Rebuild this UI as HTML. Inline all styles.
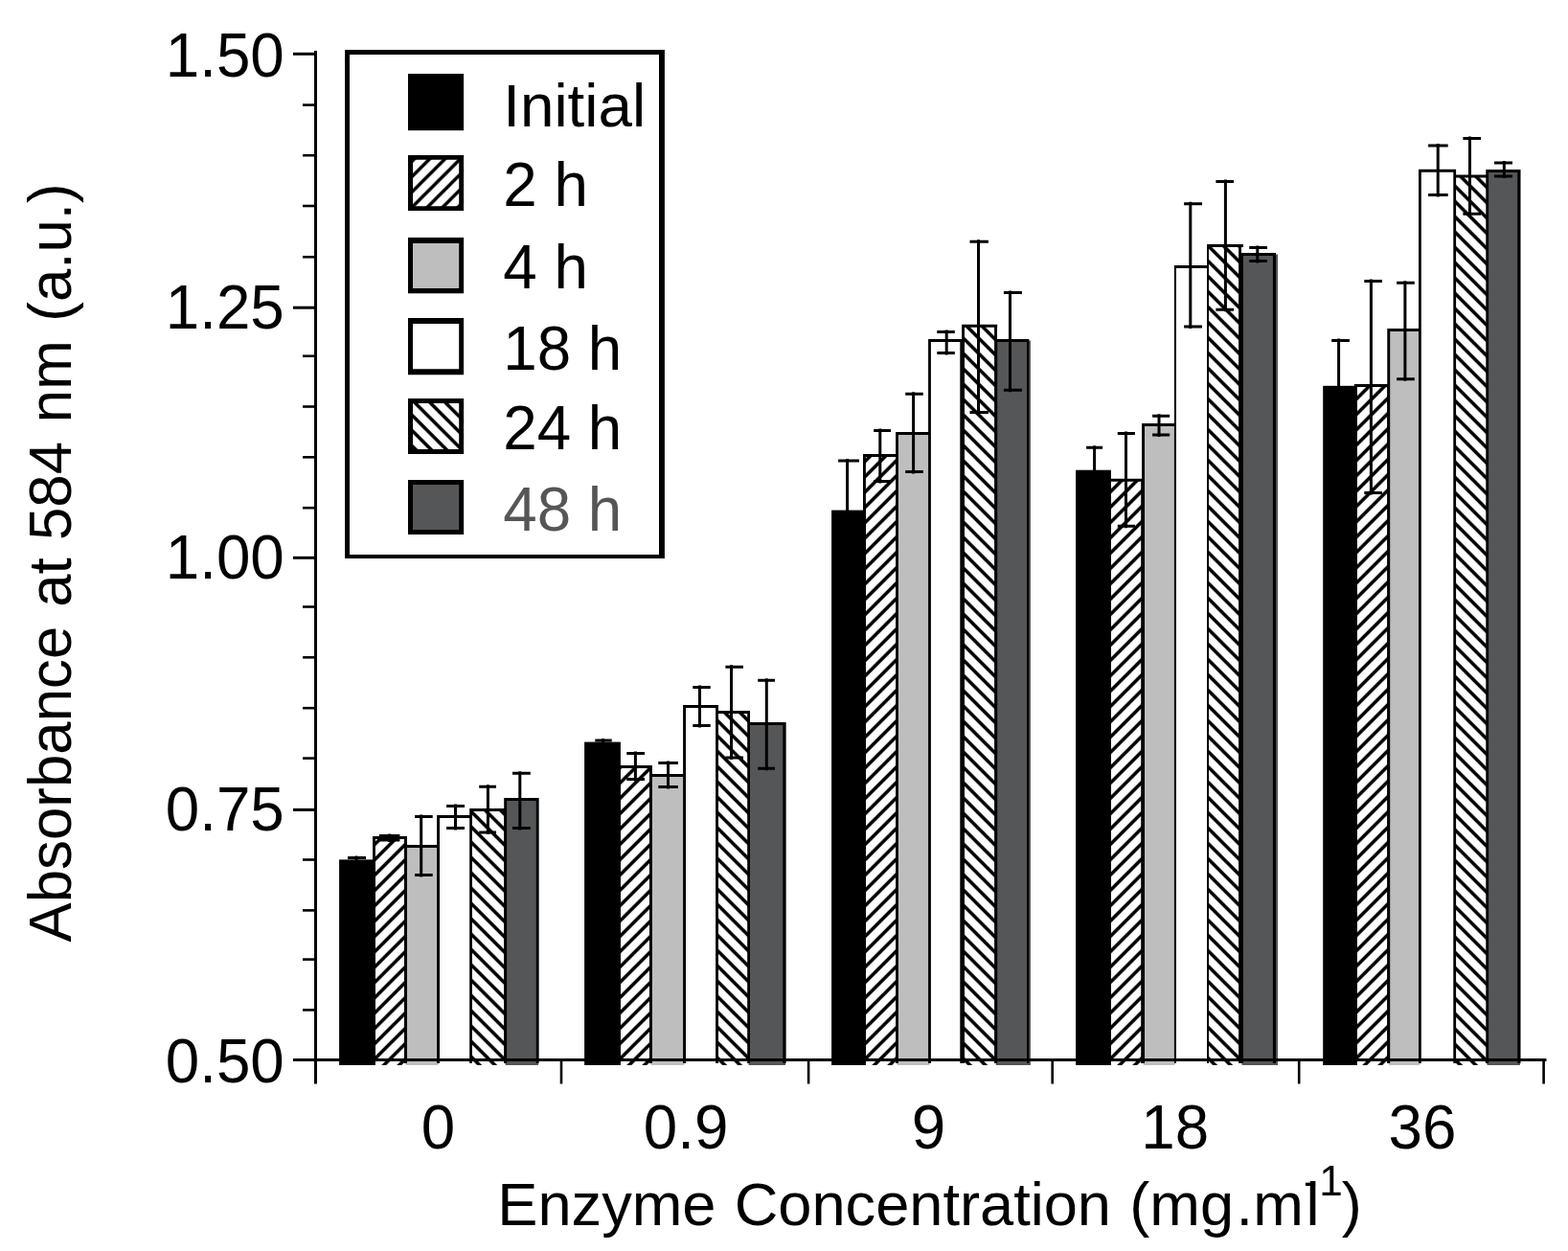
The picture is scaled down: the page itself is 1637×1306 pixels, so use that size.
<!DOCTYPE html>
<html lang="en"><head><meta charset="utf-8"><title>Absorbance at 584 nm vs Enzyme Concentration</title>
<style>
html,body{margin:0;padding:0;background:#fff;}
body{width:1637px;height:1306px;overflow:hidden;}
svg{display:block;}
text{font-family:'Liberation Sans', sans-serif;fill:#000;}
</style></head><body>
<svg width="1637" height="1306" viewBox="0 0 1637 1306">
<defs>
<pattern id="h1" patternUnits="userSpaceOnUse" width="16" height="16" patternTransform="translate(8.7,0)">
<rect width="16" height="16" fill="#fff"/>
<path d="M-4,4 L4,-4 M-4,20 L20,-4 M12,20 L20,12" stroke="#000" stroke-width="3.6" fill="none"/>
</pattern>
<pattern id="h2" patternUnits="userSpaceOnUse" width="16" height="16" patternTransform="translate(0,3.3)">
<rect width="16" height="16" fill="#fff"/>
<path d="M-4,12 L4,20 M-4,-4 L20,20 M12,-4 L20,4" stroke="#000" stroke-width="3.6" fill="none"/>
</pattern>
<pattern id="h1L" patternUnits="userSpaceOnUse" width="16" height="16" patternTransform="translate(6.5,0)">
<rect width="16" height="16" fill="#fff"/>
<path d="M-4,4 L4,-4 M-4,20 L20,-4 M12,20 L20,12" stroke="#000" stroke-width="3.4" fill="none"/>
</pattern>
</defs>
<rect width="1637" height="1306" fill="#fff"/>
<g id="bars">
<rect x="390.4" y="874.5" width="34.0" height="237.5" fill="url(#h1)"/>
<rect x="423.5" y="883.5" width="35.0" height="228.5" fill="#bebebe"/>
<rect x="457.5" y="852.5" width="34.9" height="259.5" fill="#ffffff"/>
<rect x="491.4" y="845.5" width="37.1" height="266.5" fill="url(#h2)"/>
<rect x="527.6" y="834.5" width="34.5" height="277.5" fill="#555658"/>
<rect x="354.1" y="897.4" width="37.8" height="214.6" fill="#000"/>
<path d="M389.0,873.0H425.0V876.0H389.0ZM389.0,873.0H391.9V1110.0H389.0ZM422.0,873.0H424.9V1110.0H422.0ZM422.1,882.0H459.0V885.0H422.1ZM422.1,882.0H425.0V1110.0H422.1ZM456.1,882.0H459.0V1110.0H456.1ZM456.1,851.0H492.9V854.0H456.1ZM456.1,851.0H459.0V1110.0H456.1ZM490.2,851.0H492.9V1110.0H490.2ZM490.2,844.0H529.1V847.0H490.2ZM490.2,844.0H492.9V1110.0H490.2ZM526.1,844.0H529.0V1110.0H526.1ZM526.2,833.0H562.6V836.0H526.2ZM526.2,833.0H529.1V1110.0H526.2ZM559.8,833.0H562.6V1110.0H559.8Z" fill="#000"/>
<rect x="646.4" y="800.6" width="34.0" height="311.4" fill="url(#h1)"/>
<rect x="679.4" y="809.5" width="36.1" height="302.5" fill="#bebebe"/>
<rect x="714.5" y="737.5" width="35.0" height="374.5" fill="#ffffff"/>
<rect x="748.5" y="743.4" width="34.0" height="368.6" fill="url(#h2)"/>
<rect x="781.5" y="755.6" width="38.6" height="356.4" fill="#555658"/>
<rect x="610.1" y="774.6" width="37.8" height="337.4" fill="#000"/>
<path d="M645.0,799.1H680.9V802.1H645.0ZM645.0,799.1H647.9V1110.0H645.0ZM678.0,799.1H680.9V1110.0H678.0ZM678.0,808.0H716.0V811.0H678.0ZM678.0,808.0H680.9V1110.0H678.0ZM713.1,808.0H716.0V1110.0H713.1ZM713.1,736.0H750.0V739.0H713.1ZM713.1,736.0H716.0V1110.0H713.1ZM747.1,736.0H750.0V1110.0H747.1ZM747.1,741.9H783.0V744.9H747.1ZM747.1,741.9H750.0V1110.0H747.1ZM780.2,741.9H783.0V1110.0H780.2ZM780.2,754.1H820.6V757.1H780.2ZM780.2,754.1H783.0V1110.0H780.2ZM817.3,754.1H820.6V1110.0H817.3Z" fill="#000"/>
<rect x="902.4" y="475.4" width="35.0" height="636.6" fill="url(#h1)"/>
<rect x="936.4" y="452.4" width="35.0" height="659.6" fill="#bebebe"/>
<rect x="970.4" y="355.5" width="34.3" height="756.5" fill="#ffffff"/>
<rect x="1005.5" y="340.3" width="35.0" height="771.7" fill="url(#h2)"/>
<rect x="1039.7" y="355.5" width="36.2" height="756.5" fill="#555658"/>
<rect x="868.1" y="532.6" width="35.8" height="579.4" fill="#000"/>
<path d="M901.0,473.9H937.9V476.9H901.0ZM901.0,473.9H903.9V1110.0H901.0ZM935.1,473.9H937.9V1110.0H935.1ZM935.1,450.9H971.9V453.9H935.1ZM935.1,450.9H937.9V1110.0H935.1ZM969.1,450.9H971.9V1110.0H969.1ZM969.1,354.0H1007.0V357.0H969.1ZM969.1,354.0H971.9V1110.0H969.1ZM1002.3,354.0H1005.2V1110.0H1002.3ZM1004.1,338.8H1041.2V341.8H1004.1ZM1004.1,338.8H1007.0V1110.0H1004.1ZM1038.1,338.8H1041.0V1110.0H1038.1ZM1038.3,354.0H1074.3V357.0H1038.3ZM1038.3,354.0H1041.2V1110.0H1038.3ZM1072.1,354.0H1074.3V1110.0H1072.1Z" fill="#000"/>
<rect x="1158.4" y="501.2" width="35.2" height="610.8" fill="url(#h1)"/>
<rect x="1193.5" y="443.5" width="34.0" height="668.5" fill="#bebebe"/>
<rect x="1226.5" y="278.5" width="35.0" height="833.5" fill="#ffffff"/>
<rect x="1260.5" y="256.5" width="35.0" height="855.5" fill="url(#h2)"/>
<rect x="1296.5" y="265.5" width="37.6" height="846.5" fill="#555658"/>
<rect x="1123.1" y="490.7" width="36.8" height="621.3" fill="#000"/>
<path d="M1157.0,499.7H1195.0V502.7H1157.0ZM1157.0,499.7H1159.9V1110.0H1157.0ZM1191.2,499.7H1194.1V1110.0H1191.2ZM1192.1,442.0H1228.0V445.0H1192.1ZM1192.1,442.0H1195.0V1110.0H1192.1ZM1225.9,442.0H1228.0V1110.0H1225.9ZM1225.9,277.0H1262.0V280.0H1225.9ZM1225.9,277.0H1228.0V1110.0H1225.9ZM1260.1,277.0H1262.0V1110.0H1260.1ZM1260.1,255.0H1298.0V258.0H1260.1ZM1260.1,255.0H1262.0V1110.0H1260.1ZM1293.1,255.0H1296.0V1110.0H1293.1ZM1295.1,264.0H1332.0V267.0H1295.1ZM1295.1,264.0H1298.0V1110.0H1295.1ZM1328.9,264.0H1332.0V1110.0H1328.9Z" fill="#000"/>
<rect x="1415.3" y="402.5" width="35.2" height="709.5" fill="url(#h1)"/>
<rect x="1449.7" y="344.4" width="33.6" height="767.6" fill="#bebebe"/>
<rect x="1482.3" y="178.2" width="37.3" height="933.8" fill="#ffffff"/>
<rect x="1518.6" y="184.1" width="35.0" height="927.9" fill="url(#h2)"/>
<rect x="1552.6" y="178.5" width="34.4" height="933.5" fill="#555658"/>
<rect x="1381.2" y="402.8" width="35.6" height="709.2" fill="#000"/>
<path d="M1413.9,401.0H1451.2V404.0H1413.9ZM1413.9,401.0H1416.8V1110.0H1413.9ZM1448.1,401.0H1451.0V1110.0H1448.1ZM1448.3,342.9H1483.8V345.9H1448.3ZM1448.3,342.9H1451.2V1110.0H1448.3ZM1481.0,342.9H1483.8V1110.0H1481.0ZM1481.0,176.7H1520.1V179.7H1481.0ZM1481.0,176.7H1483.8V1110.0H1481.0ZM1517.3,176.7H1520.1V1110.0H1517.3ZM1517.3,182.6H1554.1V185.6H1517.3ZM1517.3,182.6H1520.1V1110.0H1517.3ZM1551.3,182.6H1554.1V1110.0H1551.3ZM1551.3,177.0H1587.5V180.0H1551.3ZM1551.3,177.0H1554.1V1110.0H1551.3ZM1584.3,177.0H1587.5V1110.0H1584.3Z" fill="#000"/>
</g>
<g id="errors" stroke="#000" stroke-width="3" fill="none">
<path d="M372,893.5 V899.4 M363,895.5 H382"/>
<path d="M406.7,870.4 V879 M396,872.4 H417.4 M396,877 H417.4"/>
<path d="M439.7,850.6 V915.6 M433.1,852.6 H451.7 M433.1,913.6 H451.7"/>
<path d="M475.5,839.5 V866.6 M466.1,841.5 H485 M466.1,864.6 H485"/>
<path d="M509.4,819.2 V871 M500.2,821.2 H518 M500.2,869 H518"/>
<path d="M542.8,805.2 V866.6 M535,807.2 H553.8 M535,864.6 H553.8"/>
<path d="M629.6,771 V776.6 M621.3,773 H638.7"/>
<path d="M663.4,784.5 V815.4 M654.3,786.5 H673 M654.3,813.4 H673"/>
<path d="M697.5,794.4 V823.6 M687.3,796.4 H707.9 M687.3,821.6 H707.9"/>
<path d="M730.5,715.4 V759.6 M723.3,717.4 H741.7 M723.3,757.6 H741.7"/>
<path d="M763.5,694.3 V793.1 M757.4,696.3 H776 M757.4,791.1 H776"/>
<path d="M800.3,708.3 V804.3 M791.2,710.3 H809 M791.2,802.3 H809"/>
<path d="M884.6,479.1 V534.6 M875.1,481.1 H897"/>
<path d="M918.8,447.6 V504.4 M912.2,449.6 H930 M912.2,502.4 H930"/>
<path d="M953.6,409.3 V494.6 M945.2,411.3 H963.8 M945.2,492.6 H963.8"/>
<path d="M988.2,344.6 V370.5 M978.3,346.6 H996.8 M978.3,368.5 H996.8"/>
<path d="M1021.5,250.3 V432.4 M1012.5,252.3 H1031.9 M1012.5,430.4 H1031.9"/>
<path d="M1054.5,303.4 V409.3 M1047.9,305.4 H1066.9 M1047.9,407.3 H1066.9"/>
<path d="M1142.6,465.3 V492.7 M1134.1,467.3 H1151.1"/>
<path d="M1175.5,450.4 V551.3 M1166.8,452.4 H1184.9 M1166.8,549.3 H1184.9"/>
<path d="M1210,432.3 V456.1 M1203.1,434.3 H1221.2 M1203.1,454.1 H1221.2"/>
<path d="M1242.8,210.8 V342.9 M1236.1,212.8 H1255 M1236.1,340.9 H1255"/>
<path d="M1279.4,187.4 V325.3 M1269.4,189.4 H1288 M1269.4,323.3 H1288"/>
<path d="M1312.8,256.5 V274.5 M1304.2,258.5 H1323 M1304.2,272.5 H1323"/>
<path d="M1397.6,353.4 V404.8 M1390.2,355.4 H1409"/>
<path d="M1431.4,291.6 V516.5 M1424.3,293.6 H1443 M1424.3,514.5 H1443"/>
<path d="M1466.9,293.2 V397.7 M1458.1,295.2 H1476.8 M1458.1,395.7 H1476.8"/>
<path d="M1501.2,150 V205.6 M1491.1,152 H1511.7 M1491.1,203.6 H1511.7"/>
<path d="M1534.5,142.4 V225.2 M1527.4,144.4 H1546 M1527.4,223.2 H1546"/>
<path d="M1570.3,168.1 V186.1 M1560,170.1 H1579 M1560,184.1 H1579"/>
</g>
<g id="axes" stroke="#000" fill="none">
<path d="M329.5,53 V1131.5" stroke-width="3"/>
<path d="M306,1106.5 H1614.5" stroke-width="3.2"/>
<path d="M586,1106 V1131.5" stroke-width="2.6"/>
<path d="M844.1,1106 V1131.5" stroke-width="2.6"/>
<path d="M1098.7,1106 V1131.5" stroke-width="2.6"/>
<path d="M1356.2,1106 V1131.5" stroke-width="2.6"/>
<path d="M1611.6,1106 V1131.5" stroke-width="2.6"/>
<path d="M316,1054.4 H329" stroke-width="2.6"/>
<path d="M316,1001.6 H329" stroke-width="2.6"/>
<path d="M316,950.4 H329" stroke-width="2.6"/>
<path d="M316,897.5 H329" stroke-width="2.6"/>
<path d="M306,845.4 H329" stroke-width="3"/>
<path d="M316,791.6 H329" stroke-width="2.6"/>
<path d="M316,739.2 H329" stroke-width="2.6"/>
<path d="M316,686.3 H329" stroke-width="2.6"/>
<path d="M316,633.5 H329" stroke-width="2.6"/>
<path d="M306,582.3 H329" stroke-width="3"/>
<path d="M316,530.2 H329" stroke-width="2.6"/>
<path d="M316,477.3 H329" stroke-width="2.6"/>
<path d="M316,424.5 H329" stroke-width="2.6"/>
<path d="M316,371.7 H329" stroke-width="2.6"/>
<path d="M306,321.2 H329" stroke-width="3"/>
<path d="M316,268.3 H329" stroke-width="2.6"/>
<path d="M316,215 H329" stroke-width="2.6"/>
<path d="M316,162.2 H329" stroke-width="2.6"/>
<path d="M316,109.6 H329" stroke-width="2.6"/>
<path d="M306,56.3 H329" stroke-width="3"/>
</g>
<g id="ylabels">
<text transform="translate(296.8,1130) scale(1.0114,1.015)" font-size="63" text-anchor="end">0.50</text>
<text transform="translate(296.8,867) scale(1.0114,1.015)" font-size="63" text-anchor="end">0.75</text>
<text transform="translate(296.8,604) scale(1.0114,1.015)" font-size="63" text-anchor="end">1.00</text>
<text transform="translate(296.8,343) scale(1.0114,1.015)" font-size="63" text-anchor="end">1.25</text>
<text transform="translate(296.8,80) scale(1.0114,1.015)" font-size="63" text-anchor="end">1.50</text>
</g>
<g id="xlabels">
<text transform="translate(457.5,1199) scale(1.0114,1.015)" font-size="63" text-anchor="middle">0</text>
<text transform="translate(716.1,1199) scale(1.0114,1.015)" font-size="63" text-anchor="middle">0.9</text>
<text transform="translate(969.5,1199) scale(1.0114,1.015)" font-size="63" text-anchor="middle">9</text>
<text transform="translate(1226.8,1199) scale(1.0114,1.015)" font-size="63" text-anchor="middle">18</text>
<text transform="translate(1485,1199) scale(1.0114,1.015)" font-size="63" text-anchor="middle">36</text>
</g>
<text id="xtitle" transform="translate(519.3,1278.7) scale(1.003,1)" font-size="63">Enzyme<tspan dx="1.62"> Concentration</tspan><tspan dx="1.75"> (mg</tspan><tspan dx="2.5">.m</tspan><tspan dx="2.6">l</tspan><tspan font-size="42" dx="-16.5" dy="-30.5">-</tspan><tspan font-size="44" dx="2.3">1</tspan><tspan dx="-1" dy="30.5">)</tspan></text>
<text id="ytitle" transform="translate(73.8,983.51) rotate(-90) scale(0.981,1)" font-size="63">Absorbance<tspan dx="2.77"> at</tspan><tspan dx="1.15"> 584</tspan><tspan dx="2.64"> nm</tspan><tspan dx="2.52"> (a.u.)</tspan></text>
<g id="legend">
<rect x="360.1" y="52.1" width="333.8" height="530.9" fill="#fff"/>
<path d="M360.1,52.1H693.9V583.0H360.1Z M365.0,56.9V579.1H688.0V56.9Z" fill="#000" fill-rule="evenodd"/>
<rect x="426" y="77" width="58.1" height="59.2" fill="#000"/>
<text transform="translate(525.3,132) scale(1.0114,1)" font-size="63" text-anchor="start">Initial</text>
<rect x="426" y="161.9" width="58.1" height="58.0" fill="url(#h1L)"/>
<path d="M426.0,161.9H484.1V219.9H426.0Z M431.0,166.8V215.2H479.2V166.8Z" fill="#000" fill-rule="evenodd"/>
<text transform="translate(525.3,215) scale(1.0114,1.015)" font-size="63" text-anchor="start">2 h</text>
<rect x="426" y="248" width="58.1" height="58.2" fill="#bebebe"/>
<path d="M426.0,248.0H484.1V306.2H426.0Z M431.0,254.0V301.1H479.2V254.0Z" fill="#000" fill-rule="evenodd"/>
<text transform="translate(525.3,301) scale(1.0114,1.015)" font-size="63" text-anchor="start">4 h</text>
<rect x="426" y="332" width="58.1" height="59.2" fill="#ffffff"/>
<path d="M426.0,332.0H484.1V391.2H426.0Z M431.0,337.9V385.2H479.2V337.9Z" fill="#000" fill-rule="evenodd"/>
<text transform="translate(525.3,386) scale(1.0114,1.015)" font-size="63" text-anchor="start">18 h</text>
<rect x="426" y="416" width="58.1" height="57.9" fill="url(#h2)"/>
<path d="M426.0,416.0H484.1V473.9H426.0Z M431.0,420.9V469.1H479.2V420.9Z" fill="#000" fill-rule="evenodd"/>
<text transform="translate(525.3,469) scale(1.0114,1.015)" font-size="63" text-anchor="start">24 h</text>
<rect x="426" y="501" width="58.1" height="57.0" fill="#555658"/>
<path d="M426.0,501.0H484.1V558.0H426.0Z M431.0,505.9V553.1H479.2V505.9Z" fill="#000" fill-rule="evenodd"/>
<text transform="translate(525.3,554) scale(1.0114,1.015)" font-size="63" text-anchor="start" style="fill:#555658">48 h</text>
</g>
</svg>
</body></html>
